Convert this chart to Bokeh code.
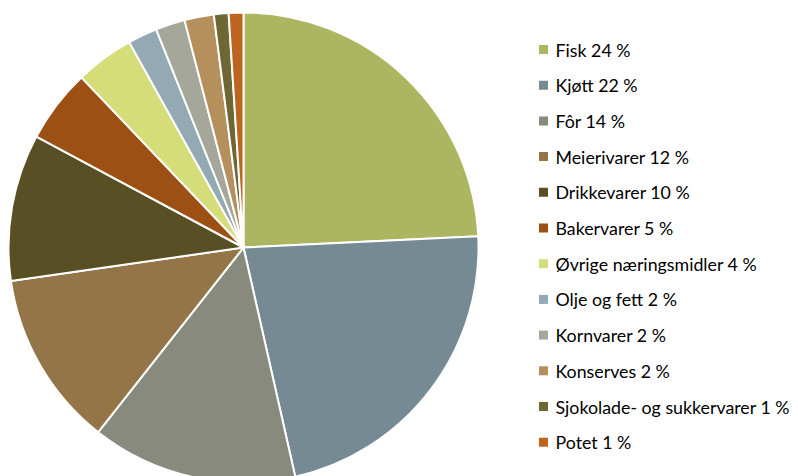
import math
from bokeh.plotting import figure
from bokeh.models import Range1d, ColumnDataSource
from bokeh.core.properties import value
from bokeh.embed import file_html
from bokeh.resources import INLINE

categories = ["Fisk", "Kjøtt", "Fôr", "Meierivarer", "Drikkevarer", "Bakervarer",
              "Øvrige næringsmidler", "Olje og fett", "Kornvarer", "Konserves",
              "Sjokolade- og sukkervarer", "Potet"]
shares = [24, 22, 14, 12, 10, 5, 4, 2, 2, 2, 1, 1]
colors = ["#ACB55F", "#768A94", "#878A7D", "#937547", "#594F25", "#9D5014",
          "#D4DD77", "#93A9B4", "#A5A79B", "#B58F5C", "#6E6633", "#BF6420"]

W, H = 798, 476
p = figure(width=W, height=H, output_backend="svg", toolbar_location=None,
           x_range=Range1d(0, W), y_range=Range1d(0, H),
           min_border=0)
p.axis.visible = False
p.grid.visible = False
p.outline_line_color = None

total = sum(shares)
starts, ends = [], []
cum = 0
for s in shares:
    starts.append(math.pi / 2 - 2 * math.pi * cum / total)
    cum += s
    ends.append(math.pi / 2 - 2 * math.pi * cum / total)

cx, cy, r = 243, H - 247, 235
src = ColumnDataSource(dict(start=starts, end=ends, color=colors))
p.wedge(x=cx, y=cy, radius=r, start_angle="start", end_angle="end",
        direction="clock", fill_color="color", line_color="white", line_width=2,
        source=src)

ly = [H - (49 + i * 35.7) for i in range(len(categories))]
labels = [f"{c} {v} %" for c, v in zip(categories, shares)]
lsrc = ColumnDataSource(dict(x=[543] * len(ly), tx=[555] * len(ly), y=ly,
                             color=colors, label=labels))
p.scatter(x="x", y="y", marker="square", size=9, fill_color="color",
          line_color=None, source=lsrc)
p.text(x="tx", y="y", text="label", text_font=value("Lato"), text_font_size="17.8px",
       text_baseline="middle", text_color="#000000", source=lsrc)

open("out.html", "w").write(file_html(p, INLINE))
